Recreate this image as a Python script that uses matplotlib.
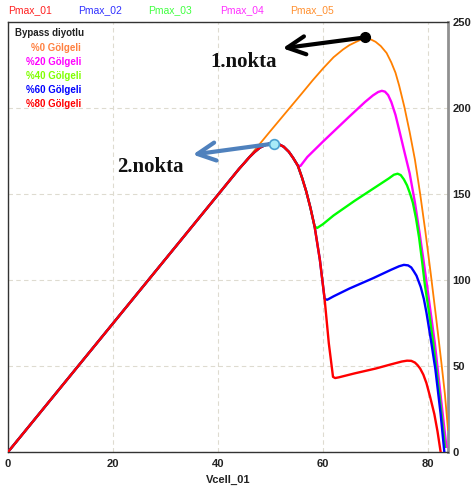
"""
Bypass diode PV curves: power vs cell voltage for different shading levels.
"""

import matplotlib
matplotlib.use("Agg")
import matplotlib.pyplot as plt

# --- data ---
# shared rising part (all curves lie on top of each other here)
common_v = [0, 20, 40, 44]
common_p = [0, 74.8, 149.6, 164.6]

# red hump after the first peak, shared by the shaded curves up to their branch point
hump_v = [45, 46, 47, 48, 49, 49.8, 50.5, 51.2, 51.8, 52.5, 53.5, 54.3, 55.2, 56,
          56.8, 57.6, 58.4, 59.4, 60.3, 61.1, 61.9]
hump_p = [168, 171.5, 174.5, 177, 178.5, 179.3, 179.4, 179, 178.6, 177.5, 174.5,
          171, 166.5, 159.5, 151.5, 142, 131, 111.7, 89, 63.2, 43.7]

# Pmax_05 : %0 shading
v05 = [0, 20, 40, 44, 46, 48, 50, 52, 54, 56, 58, 60, 62, 63.8, 65, 66.4, 67.4,
       68.2, 69, 70, 71, 72.1, 73, 73.8, 74.5, 75.5, 76.5, 77.5, 78.5, 79.5,
       80.5, 81.5, 82.5, 83.2, 83.8]
p05 = [0, 74.8, 149.6, 164.3, 171.8, 179.3, 186.7, 194, 201.3, 208.6, 216, 223,
       229.5, 234, 236.5, 238.6, 240, 240.5, 240, 238.5, 236, 232, 226.5, 220.5,
       213, 200.5, 186, 170, 150, 128, 104, 79, 53, 34, 13]

# Pmax_04 : %20 shading (branches off the hump at 55.2 V)
v04_tail = [55.7, 57, 60, 62, 65, 68, 69.5, 70.5, 71.2, 71.8, 72.4, 73, 73.8,
            74.6, 75.5, 76.5, 77.5, 78.4, 79.2, 80, 81.3, 82.5, 83.5]
p04_tail = [166.3, 171.5, 180.5, 186.3, 195, 203.5, 207.3, 209.3, 210, 209.5,
            207.5, 203.5, 196, 186, 174.5, 162, 145, 127, 110, 92.3, 63, 30, 3]

# Pmax_03 : %40 shading (branches off at 58.4 V)
v03_tail = [58.9, 60, 62, 66, 70, 72.5, 73.5, 74.2, 74.8, 75.4, 76, 76.6, 77.1,
            77.7, 78.3, 78.9, 79.4, 80.2, 81, 82.2, 83.2]
p03_tail = [130.3, 132.5, 137.5, 146, 154, 159, 161.2, 161.8, 161, 158.5, 155,
            150, 145, 136, 124.5, 110, 97, 81, 63, 32, 3]

# Pmax_02 : %60 shading (branches off at 60.3 V)
v02_tail = [60.8, 62, 65, 69.5, 73, 74.5, 75.4, 76.2, 76.8, 77.3, 77.8, 78.6,
            79.2, 79.7, 80.5, 81.4, 82.4, 83.1]
p02_tail = [88.5, 90.5, 95, 101, 106, 108, 108.8, 108.5, 107.3, 105, 102.5, 96,
            89, 81, 66, 48, 22, 0]

# Pmax_01 : %80 shading
v01_tail = [62.3, 63, 66, 70, 73, 75, 76, 76.8, 77.5, 78, 78.5, 79.1, 79.7,
            80.4, 81.2, 81.8, 82.4]
p01_tail = [43, 43.4, 45.7, 48.5, 51, 52.6, 53.1, 53, 52, 50.5, 48.5, 45, 40,
            32, 22, 12, 0]

series_names = ["Pmax_01", "Pmax_02", "Pmax_03", "Pmax_04", "Pmax_05"]
series_colors = ["#ff0000", "#0000ff", "#00ff00", "#ff00ff", "#ff8000"]
header_colors = ["#ff2020", "#3030ff", "#40ff40", "#ff30ff", "#ff9030"]

shade_labels = ["%0 Gölgeli", "%20 Gölgeli", "%40 Gölgeli", "%60 Gölgeli", "%80 Gölgeli"]
shade_colors = ["#ff8040", "#ff00ff", "#80ff00", "#0000ff", "#ff0000"]

x_ticks = [0, 20, 40, 60, 80]
y_ticks = [0, 50, 100, 150, 200, 250]

# annotation anchor points (data coords)
point1 = (67.9, 241.0)
point1_tip = (52.3, 234.7)
point2 = (50.6, 179.3)
point2_tip = (35.2, 172.9)


def branch(upto_v, tail_v, tail_p):
    """shared rise + hump up to branch voltage, then own tail"""
    hv = [v for v in hump_v if v <= upto_v]
    hp = hump_p[:len(hv)]
    return common_v + hv + tail_v, common_p + hp + tail_p


# --- build curves ---
v04, p04 = branch(55.2, v04_tail, p04_tail)
v03, p03 = branch(58.4, v03_tail, p03_tail)
v02, p02 = branch(60.3, v02_tail, p02_tail)
v01, p01 = branch(61.9, v01_tail, p01_tail)

curves = {
    "Pmax_05": (v05, p05),
    "Pmax_04": (v04, p04),
    "Pmax_03": (v03, p03),
    "Pmax_02": (v02, p02),
    "Pmax_01": (v01, p01),
}

# --- plotting ---
fig = plt.figure(figsize=(4.72, 4.92), dpi=100)
W, H = 472, 492
ax = fig.add_axes([8 / W, 1 - 452 / H, 440 / W, 430 / H])

for name in ["Pmax_05", "Pmax_04", "Pmax_03", "Pmax_02", "Pmax_01"]:
    v, p = curves[name]
    col = series_colors[series_names.index(name)]
    lw = 1.3 if name == "Pmax_05" else 1.7
    ax.plot(v, p, color=col, lw=lw, solid_joinstyle="round", zorder=3)

ax.set_xlim(0, 83.8)
ax.set_ylim(0, 250)
ax.set_xticks(x_ticks)
ax.set_yticks(y_ticks)
ax.yaxis.tick_right()
ax.grid(True, ls=(0, (4, 3)), color="#dedbd0", lw=0.8)
ax.tick_params(length=0, labelsize=8, colors="#222222")
ax.tick_params(axis="x", pad=5)
ax.tick_params(axis="y", pad=3)
tick_font = ["Liberation Sans Narrow", "Liberation Sans", "DejaVu Sans"]
for lab in ax.get_xticklabels() + ax.get_yticklabels():
    lab.set_fontweight("bold")
    lab.set_family(tick_font)

for side in ["left", "bottom", "top"]:
    ax.spines[side].set_color("#333333")
    ax.spines[side].set_linewidth(1.0)
ax.spines["right"].set_color("#909090")
ax.spines["right"].set_linewidth(2.0)

ax.set_xlabel("Vcell_01", fontsize=8, fontweight="bold", family=tick_font,
              color="#222222", labelpad=4)

# header labels above the axes
header_x = [30, 100, 170, 242, 312]
for name, col, xp in zip(series_names, header_colors, header_x):
    fig.text(xp / W, 1 - 10 / H, name, color=col, fontsize=7.5,
             family="Liberation Sans", ha="center", va="center")

# inner legend text
ax.text((15 - 8) / 440, 1 - 11 / 430, "Bypass diyotlu", transform=ax.transAxes,
        fontsize=7, fontweight="bold", family="Liberation Sans", color="#222222",
        ha="left", va="center")
for i, (lab, col) in enumerate(zip(shade_labels, shade_colors)):
    ypix = 48 + 14 * i
    ax.text((81 - 8) / 440, 1 - (ypix - 22) / 430, lab, transform=ax.transAxes,
            fontsize=7, fontweight="bold", family="Liberation Sans", color=col,
            ha="right", va="center")

# point annotations
ax.annotate("", xy=point1_tip, xytext=point1,
            arrowprops=dict(arrowstyle="->,head_length=1.3,head_width=0.65",
                            lw=3, color="black", shrinkA=0, shrinkB=0),
            zorder=5)
ax.plot(*point1, "o", color="black", ms=7, zorder=6)
ax.text(44.8, 227, "1.nokta", fontsize=15, fontweight="bold",
        family="Liberation Serif", color="#111111", ha="center", va="center")

ax.annotate("", xy=point2_tip, xytext=point2,
            arrowprops=dict(arrowstyle="->,head_length=1.3,head_width=0.65",
                            lw=3, color="#4f81bd", shrinkA=0, shrinkB=0),
            zorder=5)
ax.plot(*point2, "o", color="#a8ecf8", mec="#4aa0d0", mew=1.2, ms=7, zorder=6)
ax.text(27.2, 165.5, "2.nokta", fontsize=15, fontweight="bold",
        family="Liberation Serif", color="#111111", ha="center", va="center")

fig.savefig("out.png", dpi=100)
